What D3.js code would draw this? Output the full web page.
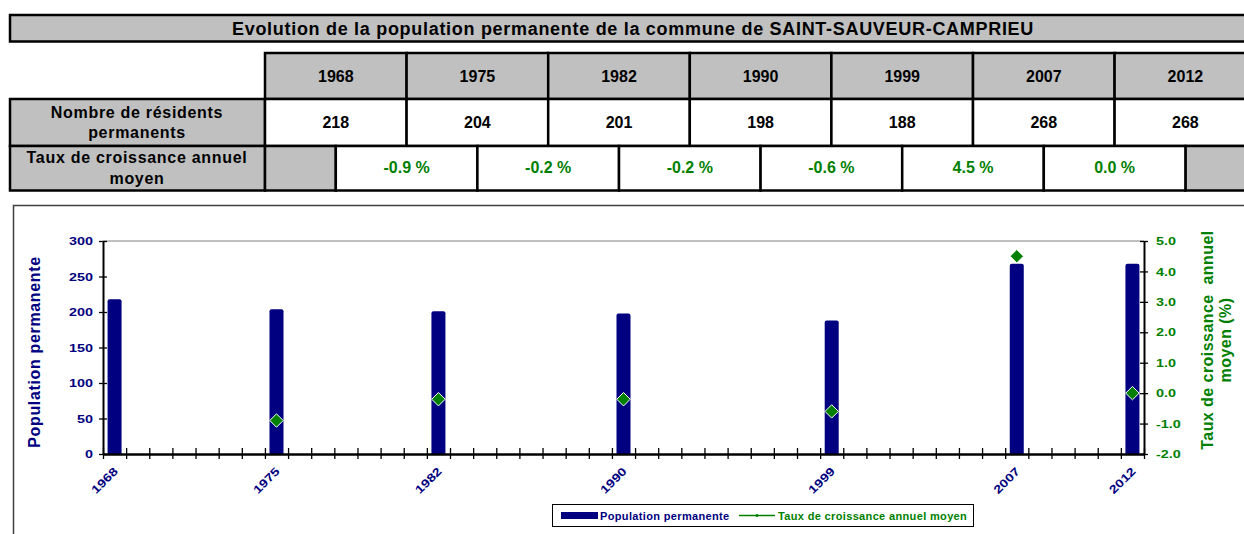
<!DOCTYPE html>
<html>
<head>
<meta charset="utf-8">
<script src="https://cdn.jsdelivr.net/npm/d3@7"></script>
<style>
  body { margin: 0; background: #fff; }
  svg { display: block; font-family: Arial, "Liberation Sans", sans-serif; font-weight: bold; }
</style>
</head>
<body>
<div class="chart"></div>
<script>
// Census years and values
const years = [1968, 1975, 1982, 1990, 1999, 2007, 2012];
const population = [218, 204, 201, 198, 188, 268, 268];
const growth = [null, -0.9, -0.2, -0.2, -0.6, 4.5, 0.0];
const popTicks = [0, 50, 100, 150, 200, 250, 300];
const rateTicks = [-2, -1, 0, 1, 2, 3, 4, 5];

const title = "Evolution de la population permanente de la commune de SAINT-SAUVEUR-CAMPRIEU";
const popLabel = "Population permanente";
const rateLabel = "Taux de croissance annuel moyen";

const width = 1244;
const height = 534;
const navy = "#000080";
const green = "#008000";
const grey = "#c0c0c0";
// Excel renders the chart fonts a bit wider than Arial
const stretch = 1.25;

const svg = d3.select(".chart")
  .append("svg")
    .attr("width", width)
    .attr("height", height);

//////////////////
/// TABLE ///
/////////////////

const table = svg.append("g");
const col = d3.scaleBand()
  .domain(years)
  .range([265, 265 + 7 * 141.6]);
const bw = col.bandwidth();
const rows = {head: [53, 99], pop: [99, 146], rate: [146, 190.5]};

// Title bar
table.append("rect")
  .attr("x", 10).attr("y", 15)
  .attr("width", 1246).attr("height", 26.5)
  .attr("fill", grey).attr("stroke", "#000").attr("stroke-width", 2.5);
table.append("text")
  .attr("x", 633).attr("y", 35)
  .attr("text-anchor", "middle")
  .style("font-size", "18px")
  .style("letter-spacing", "0.7px")
  .text(title);

// Header row with years
table.selectAll(".head")
  .data(years)
  .enter()
  .append("rect")
    .attr("x", d => col(d)).attr("y", rows.head[0])
    .attr("width", bw).attr("height", rows.head[1] - rows.head[0])
    .attr("fill", grey).attr("stroke", "#000").attr("stroke-width", 2.5);
table.selectAll(".headText")
  .data(years)
  .enter()
  .append("text")
    .attr("x", d => col(d) + bw / 2).attr("y", 82)
    .attr("text-anchor", "middle")
    .style("font-size", "16px")
    .text(d => d);

// Population row
table.append("rect")
  .attr("x", 10).attr("y", rows.pop[0])
  .attr("width", 255).attr("height", rows.pop[1] - rows.pop[0])
  .attr("fill", grey).attr("stroke", "#000").attr("stroke-width", 2.5);
table.selectAll(".popCell")
  .data(years)
  .enter()
  .append("rect")
    .attr("x", d => col(d)).attr("y", rows.pop[0])
    .attr("width", bw).attr("height", rows.pop[1] - rows.pop[0])
    .attr("fill", "#fff").attr("stroke", "#000").attr("stroke-width", 2.5);
table.selectAll(".popText")
  .data(population)
  .enter()
  .append("text")
    .attr("x", (d, i) => col(years[i]) + bw / 2).attr("y", 128)
    .attr("text-anchor", "middle")
    .style("font-size", "16px")
    .text(d => d);

// Growth rate row (cells sit between two census years)
table.append("rect")
  .attr("x", 10).attr("y", rows.rate[0])
  .attr("width", 255).attr("height", rows.rate[1] - rows.rate[0])
  .attr("fill", grey).attr("stroke", "#000").attr("stroke-width", 2.5);
table.append("rect")
  .attr("x", col(years[0])).attr("y", rows.rate[0])
  .attr("width", bw / 2).attr("height", rows.rate[1] - rows.rate[0])
  .attr("fill", grey).attr("stroke", "#000").attr("stroke-width", 2.5);
table.append("rect")
  .attr("x", col(years[6]) + bw / 2).attr("y", rows.rate[0])
  .attr("width", bw / 2).attr("height", rows.rate[1] - rows.rate[0])
  .attr("fill", grey).attr("stroke", "#000").attr("stroke-width", 2.5);

const rateCells = growth.map((g, i) => ({g, i})).filter(d => d.g !== null);
table.selectAll(".rateCell")
  .data(rateCells)
  .enter()
  .append("rect")
    .attr("x", d => col(years[d.i - 1]) + bw / 2).attr("y", rows.rate[0])
    .attr("width", bw).attr("height", rows.rate[1] - rows.rate[0])
    .attr("fill", "#fff").attr("stroke", "#000").attr("stroke-width", 2.5);
table.selectAll(".rateText")
  .data(rateCells)
  .enter()
  .append("text")
    .attr("x", d => col(years[d.i - 1]) + bw)
    .attr("y", 173)
    .attr("text-anchor", "middle")
    .attr("fill", green)
    .style("font-size", "16px")
    .text(d => d.g.toFixed(1) + " %");

// Row labels
const rowLabels = [
  {lines: ["Nombre de résidents", "permanents"], y: [118, 138]},
  {lines: ["Taux de croissance annuel", "moyen"], y: [163, 184]}
];
rowLabels.forEach(r => {
  r.lines.forEach((l, j) => {
    table.append("text")
      .attr("x", 137).attr("y", r.y[j])
      .attr("text-anchor", "middle")
      .style("font-size", "16px")
      .style("letter-spacing", "0.7px")
      .text(l);
  });
});

//////////////////
/// CHART ///
/////////////////

// Chart frame
svg.append("path")
  .attr("d", "M13.5,534 V205.5 H1244")
  .attr("fill", "none").attr("stroke", "#404040").attr("stroke-width", 1.5);

const plot = {left: 103, right: 1144, top: 241, bottom: 454};

// One slot per year between 1968 and 2012
const x = d3.scaleLinear()
  .domain([1968, 2013])
  .range([plot.left, plot.right]);
const yPop = d3.scaleLinear()
  .domain([0, 300])
  .range([plot.bottom, plot.top]);
const yRate = d3.scaleLinear()
  .domain([-2, 5])
  .range([plot.bottom, plot.top]);

// Plot area top border
svg.append("line")
  .attr("x1", plot.left).attr("x2", plot.right)
  .attr("y1", plot.top).attr("y2", plot.top)
  .attr("stroke", "#808080").attr("stroke-width", 1);

// Bars
const barW = 14;
svg.selectAll(".bar")
  .data(population)
  .enter()
  .append("path")
    .attr("fill", navy)
    .attr("d", (d, i) => {
      const cx = x(years[i] + 0.5);
      const x0 = cx - barW / 2, x1 = cx + barW / 2;
      const y0 = yPop(d), y1 = yPop(0), r = 2;
      return `M${x0},${y1} V${y0 + r} Q${x0},${y0} ${x0 + r},${y0} H${x1 - r} Q${x1},${y0} ${x1},${y0 + r} V${y1} Z`;
    });

// X axis with a tick at every year boundary
const xAxis = svg.append("g")
  .attr("transform", `translate(0, ${plot.bottom})`)
  .call(d3.axisBottom(x).tickValues(d3.range(1968, 2014)).tickFormat("").tickSizeOuter(0));
xAxis.select(".domain").attr("stroke", "#000").attr("stroke-width", 2.5);
xAxis.selectAll(".tick line").attr("y1", -6).attr("y2", 5).attr("stroke", "#000").attr("stroke-width", 1.3);

svg.selectAll(".xLabel")
  .data(years)
  .enter()
  .append("text")
    .attr("transform", d => `translate(${x(d + 0.5) + 4}, ${plot.bottom + 18}) rotate(-45) scale(${stretch}, 1)`)
    .attr("text-anchor", "end")
    .attr("fill", navy)
    .style("font-size", "11.5px")
    .text(d => d);

// Left axis (population)
const yLeft = svg.append("g")
  .attr("transform", `translate(${plot.left}, 0)`)
  .call(d3.axisLeft(yPop).tickValues(popTicks).tickSizeOuter(0));
yLeft.select(".domain").attr("stroke", "#000").attr("stroke-width", 2);
yLeft.selectAll(".tick line").attr("x1", 4).attr("x2", -4).attr("stroke", "#000").attr("stroke-width", 1.3);
yLeft.selectAll(".tick text")
  .attr("x", -10 / stretch).attr("transform", `scale(${stretch}, 1)`).attr("fill", navy)
  .style("font-size", "11.5px").style("font-family", "Arial, 'Liberation Sans', sans-serif").style("font-weight", "bold");

svg.append("text")
  .attr("transform", "translate(40, 352) rotate(-90)")
  .attr("text-anchor", "middle")
  .attr("fill", navy)
  .style("font-size", "16px")
  .style("letter-spacing", "0.65px")
  .text(popLabel);

// Right axis (growth rate), plain hyphen for negatives like the original
const yRight = svg.append("g")
  .attr("transform", `translate(${plot.right}, 0)`)
  .call(d3.axisRight(yRate).tickValues(rateTicks).tickFormat(d => d.toFixed(1)).tickSizeOuter(0));
yRight.select(".domain").attr("stroke", "#000").attr("stroke-width", 2);
yRight.selectAll(".tick line").attr("x1", -4).attr("x2", 4).attr("stroke", "#000").attr("stroke-width", 1.3);
yRight.selectAll(".tick text")
  .attr("x", 12 / stretch).attr("transform", `scale(${stretch}, 1)`).attr("fill", green)
  .style("font-size", "11.5px").style("font-family", "Arial, 'Liberation Sans', sans-serif").style("font-weight", "bold");

const rightTitle = svg.append("text")
  .attr("transform", "translate(1213, 340) rotate(-90)")
  .attr("text-anchor", "middle")
  .attr("fill", green)
  .style("font-size", "16px")
  .style("letter-spacing", "0.45px")
  .style("white-space", "pre");
rightTitle.append("tspan").attr("x", 0).attr("y", 0).text("Taux de croissance  annuel");
rightTitle.append("tspan").attr("x", 0).attr("y", 18).text("moyen (%)");

// Growth rate markers
svg.selectAll(".marker")
  .data(rateCells)
  .enter()
  .append("path")
    .attr("d", d3.symbol(d3.symbolDiamond2, 115))
    .attr("transform", d => `translate(${x(years[d.i] + 0.5)}, ${yRate(d.g)})`)
    .attr("fill", green)
    .attr("stroke", "#fff")
    .attr("stroke-width", 1);

// Legend
const legend = svg.append("g");
legend.append("rect")
  .attr("x", 552.5).attr("y", 504.5)
  .attr("width", 421).attr("height", 22)
  .attr("fill", "#fff").attr("stroke", "#000").attr("stroke-width", 1);
legend.append("rect")
  .attr("x", 561).attr("y", 512)
  .attr("width", 37).attr("height", 7)
  .attr("fill", navy);
legend.append("text")
  .attr("x", 600).attr("y", 520)
  .attr("fill", navy)
  .style("font-size", "11px")
  .style("letter-spacing", "0.35px")
  .text(popLabel);
legend.append("line")
  .attr("x1", 739).attr("x2", 775)
  .attr("y1", 515.5).attr("y2", 515.5)
  .attr("stroke", green).attr("stroke-width", 1.3);
legend.append("circle")
  .attr("cx", 757).attr("cy", 515.5).attr("r", 1.5)
  .attr("fill", green);
legend.append("text")
  .attr("x", 778).attr("y", 520)
  .attr("fill", green)
  .style("font-size", "11px")
  .style("letter-spacing", "0.35px")
  .text(rateLabel);
</script>
</body>
</html>
